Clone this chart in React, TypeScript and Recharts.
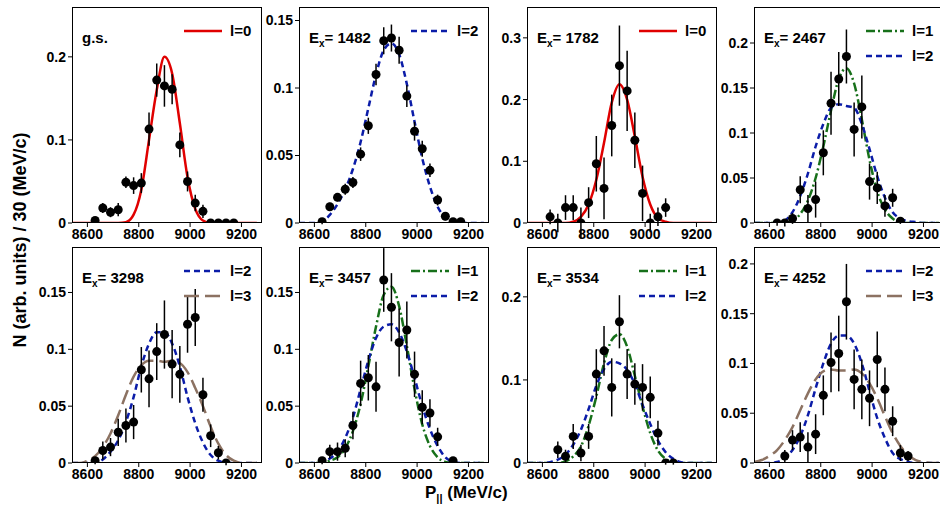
import React from 'react'
import { ComposedChart, Line, Scatter, ErrorBar, XAxis, YAxis } from 'recharts'

// fit curves are sampled on one shared momentum grid
const curveX = [8540, 8570, 8600, 8630, 8660, 8690, 8720, 8750, 8780, 8810, 8840, 8870, 8900, 8930, 8960, 8990, 9020, 9050, 9080, 9110, 9140, 9170, 9200, 9230, 9260]

const gsX = [8630, 8660, 8690, 8720, 8750, 8780, 8810, 8840, 8870, 8900, 8930, 8960, 8990, 9020, 9050, 9080, 9110, 9140, 9170]
const gsY = [0.003, 0.018, 0.013, 0.016, 0.049, 0.045, 0.048, 0.113, 0.172, 0.165, 0.161, 0.094, 0.05, 0.024, 0.014, 0, 0, 0, 0]
const gsErr = [0.003, 0.006, 0.006, 0.008, 0.007, 0.01, 0.012, 0.02, 0.02, 0.025, 0.018, 0.015, 0.012, 0.01, 0.008, 0, 0, 0, 0]
const gsL0 = [0, 0, 0, 0, 0, 0, 0, 0.001, 0.01, 0.04, 0.1, 0.16, 0.2, 0.18, 0.12, 0.055, 0.017, 0.003, 0, 0, 0, 0, 0, 0, 0]

const e1482X = [8630, 8660, 8690, 8720, 8750, 8780, 8810, 8840, 8870, 8900, 8930, 8960, 8990, 9020, 9050, 9080, 9110, 9140, 9170]
const e1482Y = [0.001, 0.012, 0.019, 0.025, 0.03, 0.051, 0.072, 0.11, 0.135, 0.137, 0.128, 0.094, 0.068, 0.055, 0.039, 0.017, 0.005, 0.001, 0.001]
const e1482Err = [0.002, 0.003, 0.003, 0.004, 0.004, 0.005, 0.006, 0.008, 0.01, 0.01, 0.01, 0.008, 0.007, 0.006, 0.005, 0.004, 0.003, 0.001, 0.001]
const e1482L2 = [0, 0, 0, 0.001, 0.006, 0.014, 0.025, 0.04, 0.06, 0.085, 0.11, 0.128, 0.133, 0.125, 0.103, 0.075, 0.048, 0.027, 0.012, 0.004, 0.001, 0, 0, 0, 0]

const e1782X = [8630, 8660, 8690, 8720, 8750, 8780, 8810, 8840, 8870, 8900, 8930, 8960, 8990, 9020, 9050, 9080]
const e1782Y = [0.01, 0, 0.025, 0.025, 0, 0.033, 0.096, 0.056, 0.158, 0.255, 0.214, 0.134, 0.048, 0, 0.01, 0.025]
const e1782Err = [0.012, 0.015, 0.02, 0.02, 0.025, 0.025, 0.045, 0.05, 0.05, 0.065, 0.065, 0.045, 0.045, 0.015, 0.015, 0.015]
const e1782L0 = [0, 0, 0, 0, 0, 0, 0.002, 0.01, 0.03, 0.07, 0.13, 0.195, 0.225, 0.2, 0.14, 0.075, 0.03, 0.008, 0.002, 0, 0, 0, 0, 0, 0]

const e2467X = [8630, 8660, 8690, 8720, 8750, 8780, 8810, 8840, 8870, 8900, 8930, 8960, 8990, 9020, 9050, 9080, 9110]
const e2467Y = [0, 0, 0.005, 0.037, 0.016, 0.026, 0.078, 0.133, 0.16, 0.185, 0.104, 0.129, 0.046, 0.039, 0.019, 0.028, 0.002]
const e2467Err = [0.003, 0.004, 0.006, 0.015, 0.015, 0.02, 0.025, 0.035, 0.03, 0.03, 0.03, 0.035, 0.02, 0.018, 0.012, 0.01, 0.003]
const e2467L1 = [0, 0, 0, 0, 0, 0.002, 0.01, 0.025, 0.05, 0.085, 0.125, 0.16, 0.172, 0.155, 0.115, 0.07, 0.035, 0.015, 0.005, 0.001, 0, 0, 0, 0, 0]
const e2467L2 = [0, 0, 0, 0.001, 0.003, 0.012, 0.03, 0.055, 0.085, 0.11, 0.128, 0.132, 0.13, 0.128, 0.11, 0.082, 0.052, 0.028, 0.012, 0.005, 0.002, 0.001, 0, 0, 0]

const e3298X = [8630, 8660, 8690, 8720, 8750, 8780, 8810, 8840, 8870, 8900, 8930, 8960, 8990, 9020, 9050, 9080, 9110, 9140]
const e3298Y = [0.002, 0.011, 0.014, 0.027, 0.033, 0.036, 0.082, 0.074, 0.098, 0.113, 0.087, 0.078, 0.122, 0.128, 0.06, 0.024, 0.009, 0]
const e3298Err = [0.003, 0.008, 0.008, 0.012, 0.015, 0.015, 0.02, 0.025, 0.025, 0.03, 0.03, 0.025, 0.025, 0.025, 0.015, 0.01, 0.006, 0.002]
const e3298L2 = [0, 0, 0, 0, 0.003, 0.01, 0.02, 0.036, 0.058, 0.085, 0.105, 0.115, 0.115, 0.105, 0.085, 0.058, 0.035, 0.018, 0.007, 0.002, 0, 0, 0, 0, 0]
const e3298L3 = [0, 0, 0.002, 0.006, 0.014, 0.026, 0.042, 0.06, 0.076, 0.086, 0.09, 0.09, 0.089, 0.09, 0.088, 0.08, 0.066, 0.05, 0.032, 0.017, 0.007, 0.002, 0, 0, 0]

const e3457X = [8630, 8660, 8690, 8720, 8750, 8780, 8810, 8840, 8870, 8900, 8930, 8960, 8990, 9020, 9050, 9080, 9140]
const e3457Y = [0.002, 0.01, 0.01, 0.013, 0.033, 0.07, 0.075, 0.067, 0.161, 0.137, 0.106, 0.117, 0.078, 0.049, 0.044, 0.023, 0.002]
const e3457Err = [0.003, 0.006, 0.008, 0.008, 0.012, 0.02, 0.02, 0.022, 0.028, 0.03, 0.03, 0.025, 0.02, 0.015, 0.012, 0.008, 0.002]
const e3457L1 = [0, 0, 0, 0, 0.002, 0.005, 0.013, 0.028, 0.052, 0.085, 0.12, 0.148, 0.155, 0.138, 0.103, 0.065, 0.034, 0.015, 0.005, 0.001, 0, 0, 0, 0, 0]
const e3457L2 = [0, 0, 0, 0.001, 0.004, 0.01, 0.022, 0.04, 0.065, 0.09, 0.11, 0.12, 0.122, 0.115, 0.098, 0.075, 0.05, 0.03, 0.015, 0.005, 0.001, 0, 0, 0, 0]

const e3534X = [8660, 8690, 8720, 8750, 8780, 8810, 8840, 8870, 8900, 8930, 8960, 8990, 9020, 9050, 9080, 9110]
const e3534Y = [0.016, 0.008, 0.032, 0.012, 0.032, 0.107, 0.135, 0.091, 0.17, 0.107, 0.095, 0.091, 0.079, 0.036, 0, 0]
const e3534Err = [0.01, 0.008, 0.015, 0.01, 0.015, 0.03, 0.03, 0.035, 0.032, 0.03, 0.025, 0.028, 0.025, 0.015, 0.002, 0.002]
const e3534L1 = [0, 0, 0, 0, 0, 0.002, 0.008, 0.02, 0.045, 0.08, 0.12, 0.148, 0.155, 0.14, 0.105, 0.068, 0.036, 0.015, 0.005, 0.001, 0, 0, 0, 0, 0]
const e3534L2 = [0, 0, 0, 0.001, 0.004, 0.01, 0.022, 0.04, 0.065, 0.093, 0.113, 0.122, 0.12, 0.112, 0.095, 0.07, 0.047, 0.027, 0.013, 0.005, 0.001, 0, 0, 0, 0]

const e4252X = [8660, 8690, 8720, 8750, 8780, 8810, 8840, 8870, 8900, 8930, 8960, 8990, 9020, 9050, 9080, 9110, 9140]
const e4252Y = [0.007, 0.023, 0.026, 0.016, 0.029, 0.068, 0.101, 0.11, 0.162, 0.084, 0.074, 0.065, 0.104, 0.074, 0.042, 0.01, 0.007]
const e4252Err = [0.006, 0.01, 0.015, 0.015, 0.02, 0.02, 0.03, 0.038, 0.038, 0.03, 0.03, 0.028, 0.028, 0.022, 0.015, 0.008, 0.005]
const e4252L2 = [0, 0, 0, 0.001, 0.005, 0.013, 0.027, 0.048, 0.075, 0.1, 0.12, 0.128, 0.128, 0.12, 0.1, 0.072, 0.045, 0.025, 0.01, 0.004, 0.001, 0, 0, 0, 0]
const e4252L3 = [0.001, 0.003, 0.007, 0.013, 0.023, 0.036, 0.053, 0.07, 0.084, 0.092, 0.094, 0.093, 0.093, 0.094, 0.09, 0.08, 0.065, 0.047, 0.03, 0.017, 0.008, 0.003, 0.001, 0, 0]

const xTicks = [8600, 8800, 9000, 9200]

const STYLES: Record<string, { color: string; dash?: string }> = {
  'l=0': { color: '#e00000' },
  'l=1': { color: '#17701a', dash: '9 3 2 3' },
  'l=2': { color: '#0b1ca8', dash: '6 4' },
  'l=3': { color: '#8c7262', dash: '15 6' },
}

const FONT = '"Liberation Sans", Arial, sans-serif'
const PW = 190
const PH = 216
const YW = 44

const pts = (xs: number[], ys: number[], es: number[]) => xs.map((x, i) => ({ x, y: ys[i], err: es[i] }))
const curve = (ys: number[]) => curveX.map((x, i) => ({ x, y: ys[i] }))

function Panel({ left, top, yMax, yTicks, points, curves, label }: any) {
  return (
    <>
      <div style={{ position: 'absolute', left: left - YW, top }}>
        <ComposedChart width={PW + YW} height={PH + 24} margin={{ top: 0, right: 0, bottom: 0, left: 0 }}>
          <XAxis dataKey="x" type="number" domain={[8540, 9280]} ticks={xTicks} allowDataOverflow
            tick={{ fontFamily: FONT, fontWeight: 700, fontSize: 14, fill: '#000' }} tickSize={4}
            axisLine={false} tickLine={{ stroke: '#000' }} height={24} />
          <YAxis type="number" domain={[0, yMax]} ticks={yTicks} allowDataOverflow width={YW}
            tick={{ fontFamily: FONT, fontWeight: 700, fontSize: 14, fill: '#000' }} tickSize={4}
            axisLine={false} tickLine={{ stroke: '#000' }} tickFormatter={(v: number) => String(v)} />
          {curves.map((c: any) => (
            <Line key={c.name} data={curve(c.ys)} dataKey="y" type="monotone" dot={false}
              stroke={STYLES[c.name].color} strokeWidth={2.5} strokeDasharray={STYLES[c.name].dash}
              isAnimationActive={false} />
          ))}
          <Scatter data={points} dataKey="y" fill="#000" isAnimationActive={false}
            shape={(p: any) => <circle cx={p.cx} cy={p.cy} r={4.5} fill="#000" />}>
            <ErrorBar dataKey="err" direction="y" stroke="#000" strokeWidth={1.5} width={0} />
          </Scatter>
        </ComposedChart>
      </div>
      <div style={{ position: 'absolute', left, top, width: PW, height: PH, border: '1.5px solid #000', boxSizing: 'border-box', pointerEvents: 'none' }} />
      <div style={{ position: 'absolute', left: left + 10, top: top + 22, fontFamily: FONT, fontWeight: 700, fontSize: 15 }}>
        {label === 'g.s.' ? 'g.s.' : <>E<sub style={{ fontSize: 10 }}>x</sub>= {label}</>}
      </div>
      {curves.map((c: any, i: number) => (
        <div key={c.name} style={{ position: 'absolute', left: left + 112, top: top + 15 + i * 25, fontFamily: FONT, fontWeight: 700, fontSize: 15, display: 'flex', alignItems: 'center' }}>
          <svg width={40} height={10}><line x1={0} y1={5} x2={38} y2={5} stroke={STYLES[c.name].color} strokeWidth={2.5} strokeDasharray={STYLES[c.name].dash} /></svg>
          <span style={{ marginLeft: 6 }}>{c.name}</span>
        </div>
      ))}
    </>
  )
}

export default function App() {
  const topRow = 7
  const botRow = 247
  return (
    <div style={{ position: 'absolute', left: 0, top: 0, width: 940, height: 509, background: '#fff', overflow: 'hidden' }}>
      <Panel left={72} top={topRow} yMax={0.26} yTicks={[0, 0.1, 0.2]} label="g.s."
        points={pts(gsX, gsY, gsErr)} curves={[{ name: 'l=0', ys: gsL0 }]} />
      <Panel left={299} top={topRow} yMax={0.16} yTicks={[0, 0.05, 0.1, 0.15]} label="1482"
        points={pts(e1482X, e1482Y, e1482Err)} curves={[{ name: 'l=2', ys: e1482L2 }]} />
      <Panel left={527} top={topRow} yMax={0.35} yTicks={[0, 0.1, 0.2, 0.3]} label="1782"
        points={pts(e1782X, e1782Y, e1782Err)} curves={[{ name: 'l=0', ys: e1782L0 }]} />
      <Panel left={754} top={topRow} yMax={0.24} yTicks={[0, 0.05, 0.1, 0.15, 0.2]} label="2467"
        points={pts(e2467X, e2467Y, e2467Err)} curves={[{ name: 'l=1', ys: e2467L1 }, { name: 'l=2', ys: e2467L2 }]} />
      <Panel left={72} top={botRow} yMax={0.19} yTicks={[0, 0.05, 0.1, 0.15]} label="3298"
        points={pts(e3298X, e3298Y, e3298Err)} curves={[{ name: 'l=2', ys: e3298L2 }, { name: 'l=3', ys: e3298L3 }]} />
      <Panel left={299} top={botRow} yMax={0.19} yTicks={[0, 0.05, 0.1, 0.15]} label="3457"
        points={pts(e3457X, e3457Y, e3457Err)} curves={[{ name: 'l=1', ys: e3457L1 }, { name: 'l=2', ys: e3457L2 }]} />
      <Panel left={527} top={botRow} yMax={0.26} yTicks={[0, 0.1, 0.2]} label="3534"
        points={pts(e3534X, e3534Y, e3534Err)} curves={[{ name: 'l=1', ys: e3534L1 }, { name: 'l=2', ys: e3534L2 }]} />
      <Panel left={754} top={botRow} yMax={0.217} yTicks={[0, 0.05, 0.1, 0.15, 0.2]} label="4252"
        points={pts(e4252X, e4252Y, e4252Err)} curves={[{ name: 'l=2', ys: e4252L2 }, { name: 'l=3', ys: e4252L3 }]} />
      <div style={{ position: 'absolute', left: 20, top: 240, transform: 'translate(-50%, -50%) rotate(-90deg)', whiteSpace: 'nowrap', fontFamily: FONT, fontWeight: 700, fontSize: 18 }}>
        N (arb. units) / 30 (MeV/c)
      </div>
      <div style={{ position: 'absolute', left: 425, top: 484, lineHeight: '18px', fontFamily: FONT, fontWeight: 700, fontSize: 17 }}>
        P<sub style={{ fontSize: 11 }}>||</sub> (MeV/c)
      </div>
    </div>
  )
}
